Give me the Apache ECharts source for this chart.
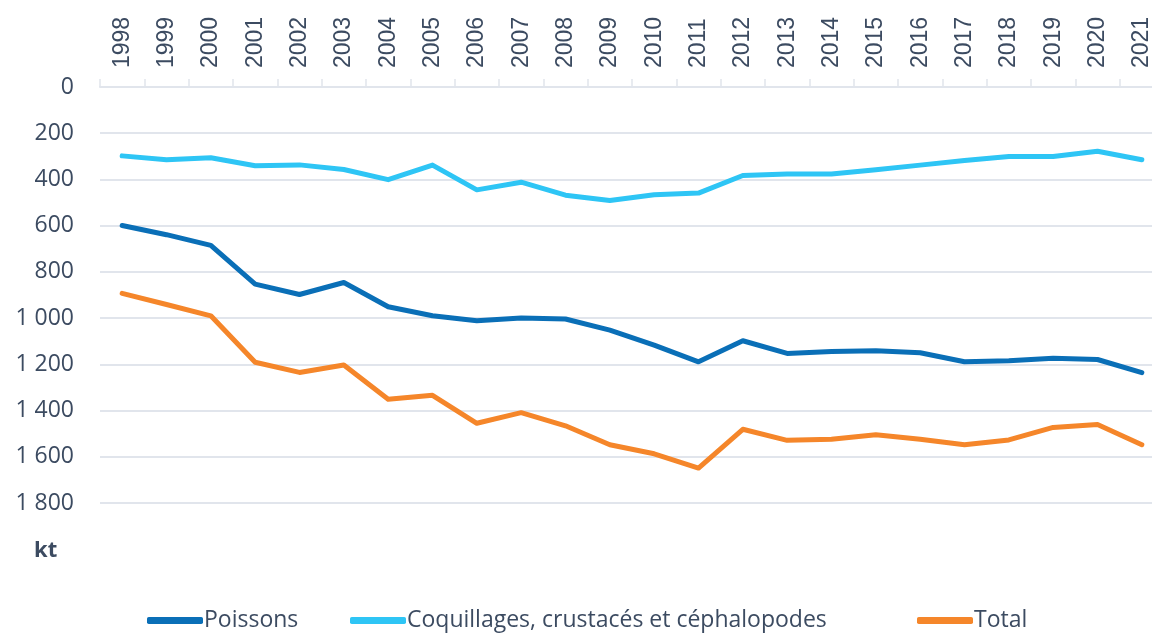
<!DOCTYPE html>
<html>
<head>
<meta charset="utf-8">
<script src="https://cdn.jsdelivr.net/npm/echarts@6/dist/echarts.min.js"></script>
<style>
  html, body { margin: 0; padding: 0; background: #fff; overflow: hidden; }
  /* the plot runs a bit past the right edge of the picture, like the original */
  #chart { width: 1164px; height: 634px; }
</style>
</head>
<body>
<div id="chart"></div>
<script>
const years = ["1998", "1999", "2000", "2001", "2002", "2003", "2004", "2005",
  "2006", "2007", "2008", "2009", "2010", "2011", "2012", "2013", "2014",
  "2015", "2016", "2017", "2018", "2019", "2020", "2021"];
const poissons = [599, 639, 685, 853, 898, 846, 951, 990, 1011, 999, 1004, 1052,
  1117, 1189, 1098, 1153, 1145, 1141, 1150, 1189, 1184, 1174, 1179, 1236];
const coquillages = [298, 315, 306, 341, 337, 357, 401, 338, 445, 412, 468, 491,
  466, 459, 383, 376, 376, 358, 338, 318, 301, 301, 278, 315];
const total = [893, 941, 990, 1191, 1235, 1203, 1351, 1334, 1455, 1409, 1466, 1548,
  1587, 1649, 1481, 1529, 1524, 1505, 1524, 1548, 1527, 1473, 1460, 1548];

const seriesNames = ["Poissons", "Coquillages, crustacés et céphalopodes", "Total"];
const seriesColors = ["#0a6fb7", "#2ec5f5", "#f5862a"];

const textColor = "#3c4b61";
const font = "'Open Sans', 'Noto Sans', sans-serif";
const gridColor = "#e1e5ec";

const chart = echarts.init(document.getElementById("chart"));

const lineSeries = (i, data) => ({
  name: seriesNames[i],
  type: "line",
  data: data,
  symbol: "none",
  lineStyle: { width: 5, color: seriesColors[i], cap: "round", join: "round" },
  itemStyle: { color: seriesColors[i] },
});

// one legend per item so each sits where it does in the original
const legendLeft = [142, 345, 912];
const legends = seriesNames.map((name, i) => ({
  data: [name],
  left: legendLeft[i],
  top: 604,
  itemWidth: 56,
  itemHeight: 7,
  icon: "roundRect",
  textStyle: { fontSize: 23, color: textColor, fontFamily: font, padding: [0, 0, 0, -4] },
}));

chart.setOption({
  animation: false,
  textStyle: { fontFamily: font, color: textColor },
  grid: { left: 100, right: 0, top: 87, bottom: 131 },
  xAxis: {
    type: "category",
    position: "top",
    data: years,
    boundaryGap: true,
    axisLine: { lineStyle: { color: gridColor, width: 2 } },
    axisTick: { show: true, length: 8, lineStyle: { color: gridColor, width: 1.5 } },
    axisLabel: {
      rotate: 90,
      interval: 0,
      margin: 19,
      fontSize: 23,
      color: textColor,
      fontFamily: "'Liberation Sans', Arial, sans-serif",
    },
  },
  yAxis: {
    type: "value",
    inverse: true,
    min: 0,
    max: 1800,
    interval: 200,
    axisLine: { show: false },
    axisTick: { show: false },
    splitLine: { lineStyle: { color: gridColor, width: 2 } },
    axisLabel: {
      margin: 26,
      fontSize: 23,
      color: textColor,
      fontFamily: font,
      formatter: (v) => String(v).replace(/\B(?=(\d{3})+(?!\d))/g, " "),
    },
  },
  legend: legends,
  graphic: [
    {
      type: "text",
      left: 34,
      top: 540,
      style: { text: "kt", fontSize: 22, fontWeight: "bold", fill: textColor, fontFamily: font },
    },
  ],
  series: [
    lineSeries(0, poissons),
    lineSeries(1, coquillages),
    lineSeries(2, total),
  ],
});
</script>
</body>
</html>
